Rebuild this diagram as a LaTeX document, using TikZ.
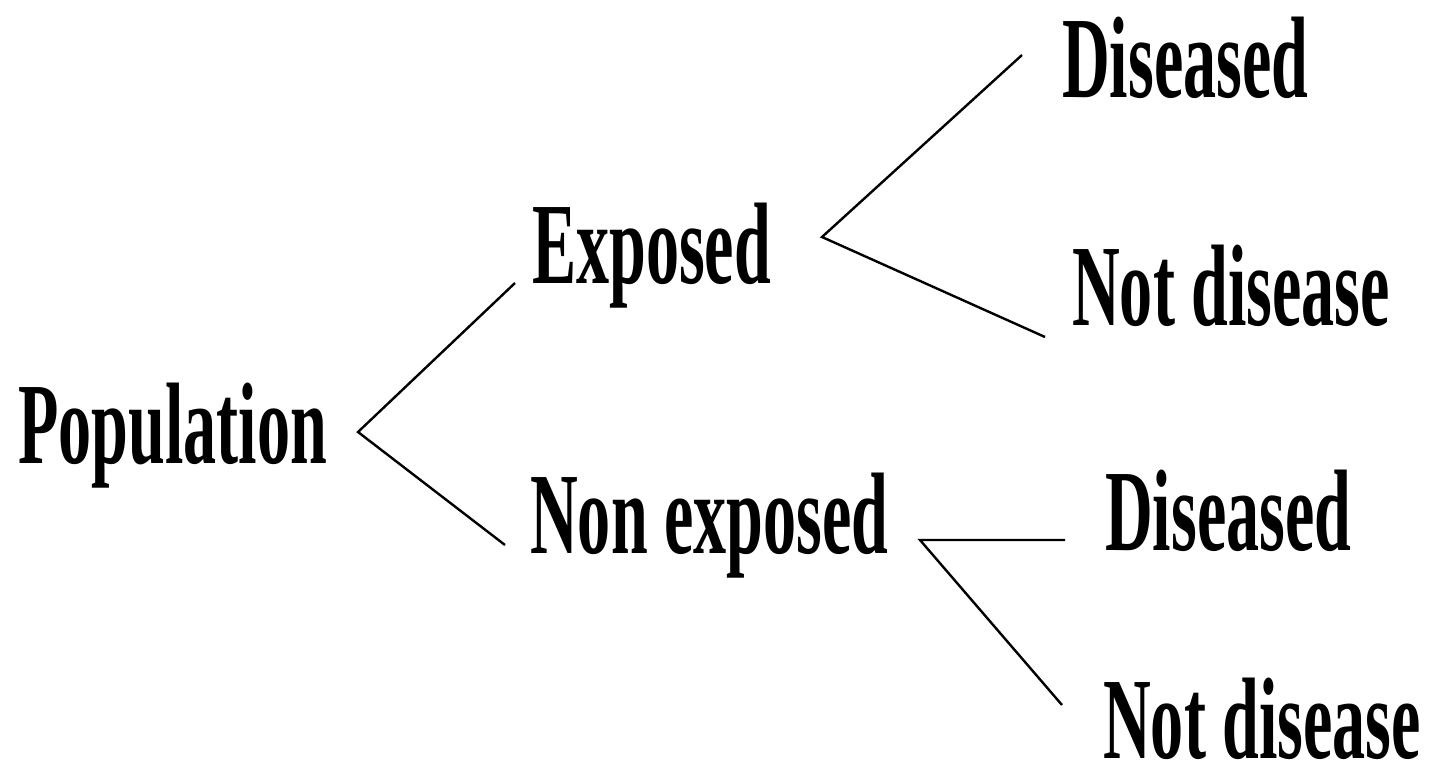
\documentclass[tikz,border=0pt]{standalone}
\usepackage{fontspec}
\newfontfamily\condfont[FakeStretch=0.57]{Liberation Serif}
\begin{document}
\begin{tikzpicture}[x=1pt,y=-1pt,
  lbl/.style={anchor=base west,inner sep=0pt,font=\condfont\bfseries\fontsize{116}{120}\selectfont},
  conn/.style={line width=2.4pt,black}]
\useasboundingbox (0,0) rectangle (1441,771);
\node[lbl] (pop) at (18,463) {Population};
\node[lbl] (exp) at (532,283) {Exposed};
\node[lbl] (nexp) at (530,553) {Non exposed};
\node[lbl] (d1) at (1062,97) {Diseased};
\node[lbl] (n1) at (1072,325) {Not disease};
\node[lbl] (d2) at (1105,550) {Diseased};
\node[lbl] (n2) at (1103,758) {Not disease};
\coordinate (popv) at (358,432);
\coordinate (expv) at (822,237);
\coordinate (nexpv) at (920,540);
\coordinate (pe) at (515,283);
\coordinate (pn) at (505,545);
\coordinate (ed) at (1022,55);
\coordinate (en) at (1045,337);
\coordinate (nd) at (1065,540);
\coordinate (nn) at (1062,705);
\draw[conn] (pe) -- (popv) -- (pn);
\draw[conn] (ed) -- (expv) -- (en);
\draw[conn] (nd) -- (nexpv) -- (nn);
\end{tikzpicture}
\end{document}
